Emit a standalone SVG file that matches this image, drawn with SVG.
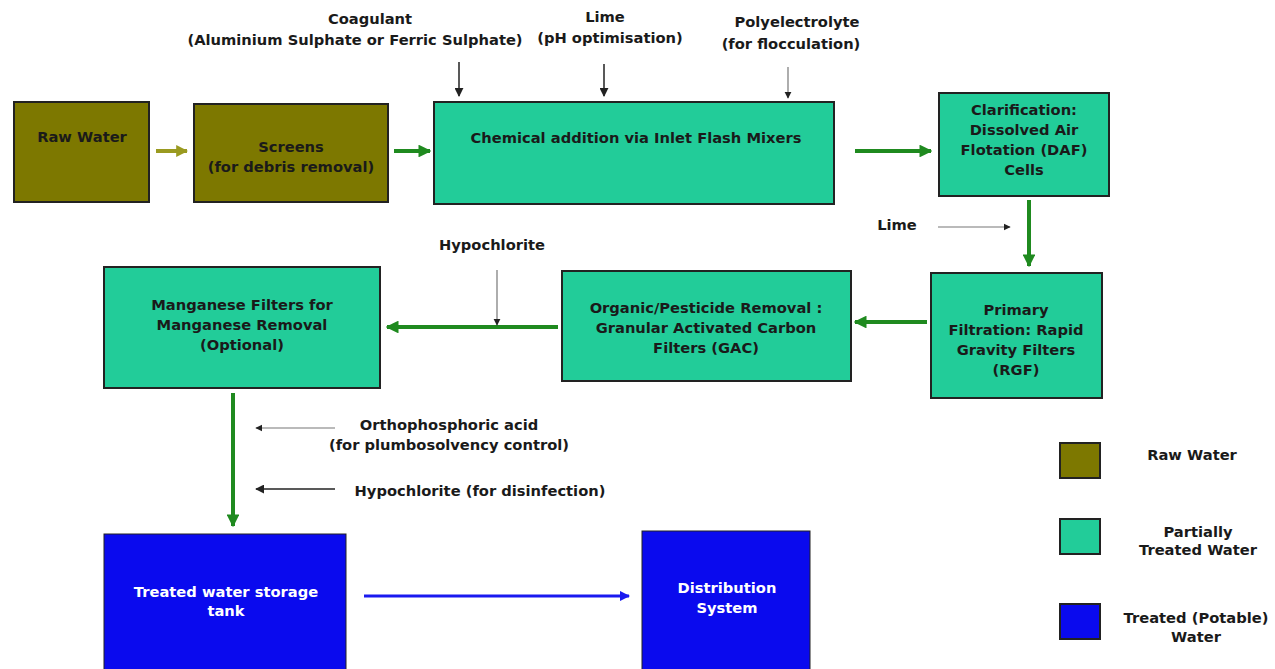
<svg xmlns="http://www.w3.org/2000/svg" width="1275" height="669" viewBox="0 0 1275 669">
<style>
text{font-family:"DejaVu Sans","Liberation Sans",sans-serif;font-weight:bold;font-size:14.7px;fill:#1a1a1a;text-anchor:middle}
.w{fill:#ffffff}
.raw{fill:#7d7800;stroke:#222;stroke-width:2}
.part{fill:#22cc99;stroke:#222;stroke-width:2}
.tr{fill:#0a0aee;stroke:#222;stroke-width:1}
.g{stroke:#1f8a1f;stroke-width:4;fill:none}
.o{stroke:#9a9a20;stroke-width:4;fill:none}
.b{stroke:#1a1af0;stroke-width:3;fill:none}
.k{stroke:#222;stroke-width:1.5;fill:none}
.kl{stroke:#777;stroke-width:1.2;fill:none}
</style>
<defs>
<marker id="ag" viewBox="0 0 10 10" refX="9" refY="5" markerWidth="3.2" markerHeight="3.2" orient="auto" markerUnits="strokeWidth"><path d="M0,0L10,5L0,10z" fill="#1f8a1f"/></marker>
<marker id="ao" viewBox="0 0 10 10" refX="9" refY="5" markerWidth="3" markerHeight="3" orient="auto" markerUnits="strokeWidth"><path d="M0,0L10,5L0,10z" fill="#9a9a20"/></marker>
<marker id="ab" viewBox="0 0 10 10" refX="9" refY="5" markerWidth="3.5" markerHeight="3.5" orient="auto" markerUnits="strokeWidth"><path d="M0,0L10,5L0,10z" fill="#1a1af0"/></marker>
<marker id="ak" viewBox="0 0 10 10" refX="9" refY="5" markerWidth="6" markerHeight="6" orient="auto" markerUnits="strokeWidth"><path d="M0,0L10,5L0,10z" fill="#222"/></marker>
</defs>
<rect width="1275" height="669" fill="#ffffff"/>
<g id="connectors">
<line class="o" x1="156" y1="151" x2="187" y2="151" marker-end="url(#ao)"/>
<line class="g" x1="394" y1="151" x2="430" y2="151" marker-end="url(#ag)"/>
<line class="g" x1="855" y1="151" x2="931" y2="151" marker-end="url(#ag)"/>
<line class="g" x1="1029" y1="200" x2="1029" y2="266" marker-end="url(#ag)"/>
<line class="g" x1="927" y1="322" x2="855" y2="322" marker-end="url(#ag)"/>
<line class="g" x1="558" y1="327" x2="387" y2="327" marker-end="url(#ag)"/>
<line class="g" x1="233" y1="393" x2="233" y2="526" marker-end="url(#ag)"/>
<line class="b" x1="364" y1="596" x2="629" y2="596" marker-end="url(#ab)"/>
<line class="k" x1="459" y1="62" x2="459" y2="96" marker-end="url(#ak)"/>
<line class="k" x1="604" y1="64" x2="604" y2="96" marker-end="url(#ak)"/>
<line class="kl" x1="788" y1="67" x2="788" y2="98" marker-end="url(#ak)"/>
<line class="kl" x1="938" y1="227" x2="1010" y2="227" marker-end="url(#ak)"/>
<line class="kl" x1="497" y1="270" x2="497" y2="325" marker-end="url(#ak)"/>
<line class="kl" x1="335" y1="428" x2="256" y2="428" marker-end="url(#ak)"/>
<line class="k" x1="335" y1="489" x2="256" y2="489" marker-end="url(#ak)"/>
</g>
<g id="labels">
<text x="370" y="24">Coagulant</text>
<text x="355" y="45">(Aluminium Sulphate or Ferric Sulphate)</text>
<text x="605" y="22">Lime</text>
<text x="610" y="43">(pH optimisation)</text>
<text x="797" y="27">Polyelectrolyte</text>
<text x="791" y="49">(for flocculation)</text>
<text x="897" y="230">Lime</text>
<text x="492" y="250">Hypochlorite</text>
<text x="449" y="430">Orthophosphoric acid</text>
<text x="449" y="450">(for plumbosolvency control)</text>
<text x="480" y="496">Hypochlorite (for disinfection)</text>
</g>
<g id="raw-water">
<rect class="raw" x="14" y="102" width="135" height="100"/>
<text x="82" y="142">Raw Water</text>
</g>
<g id="screens">
<rect class="raw" x="194" y="104" width="194" height="98"/>
<text x="291" y="152">Screens</text>
<text x="291" y="172">(for debris removal)</text>
</g>
<g id="chemical">
<rect class="part" x="434" y="102" width="400" height="102"/>
<text x="636" y="143">Chemical addition via Inlet Flash Mixers</text>
</g>
<g id="clarification">
<rect class="part" x="939" y="93" width="170" height="103"/>
<text x="1024" y="115">Clarification:</text>
<text x="1024" y="135">Dissolved Air</text>
<text x="1024" y="155">Flotation (DAF)</text>
<text x="1024" y="175">Cells</text>
</g>
<g id="primary">
<rect class="part" x="931" y="273" width="171" height="125"/>
<text x="1016" y="315">Primary</text>
<text x="1016" y="335">Filtration: Rapid</text>
<text x="1016" y="355">Gravity Filters</text>
<text x="1016" y="375">(RGF)</text>
</g>
<g id="gac">
<rect class="part" x="562" y="271" width="289" height="110"/>
<text x="706" y="313">Organic/Pesticide Removal :</text>
<text x="706" y="333">Granular Activated Carbon</text>
<text x="706" y="353">Filters (GAC)</text>
</g>
<g id="manganese">
<rect class="part" x="104" y="267" width="276" height="121"/>
<text x="242" y="310">Manganese Filters for</text>
<text x="242" y="330">Manganese Removal</text>
<text x="242" y="350">(Optional)</text>
</g>
<g id="storage">
<rect class="tr" x="104" y="534" width="242" height="140"/>
<text class="w" x="226" y="597">Treated water storage</text>
<text class="w" x="226" y="616">tank</text>
</g>
<g id="distribution">
<rect class="tr" x="642" y="531" width="168" height="143"/>
<text class="w" x="727" y="593">Distribution</text>
<text class="w" x="727" y="613">System</text>
</g>
<g id="legend">
<rect class="raw" x="1060" y="443" width="40" height="35"/>
<text x="1192" y="460">Raw Water</text>
<rect class="part" x="1060" y="519" width="40" height="35"/>
<text x="1198" y="537">Partially</text>
<text x="1198" y="555">Treated Water</text>
<rect class="tr" x="1060" y="604" width="40" height="35" style="stroke-width:2"/>
<text x="1196" y="623">Treated (Potable)</text>
<text x="1196" y="642">Water</text>
</g>
</svg>
